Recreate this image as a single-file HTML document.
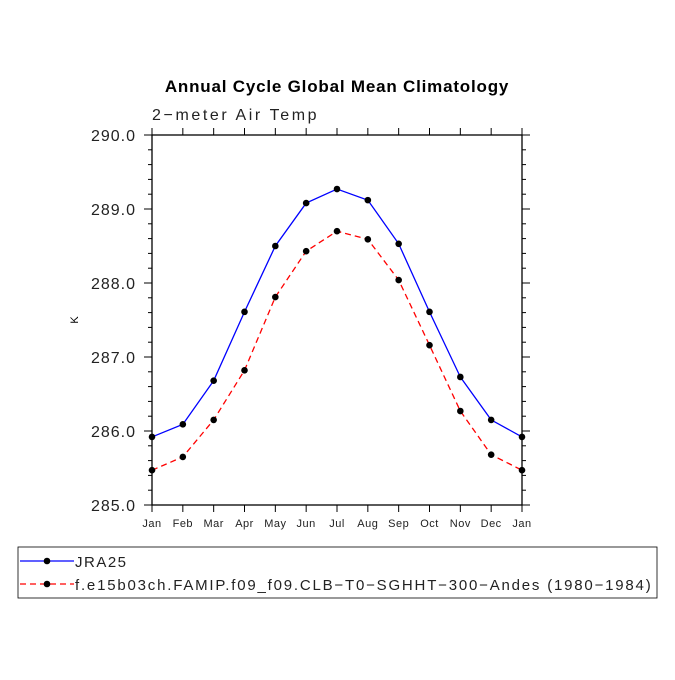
<!DOCTYPE html>
<html><head><meta charset="utf-8"><style>
body{margin:0;background:#fff}
svg text{font-family:"Liberation Sans",sans-serif}
</style></head><body>
<svg id="c" width="675" height="675" xmlns="http://www.w3.org/2000/svg">
<text x="337" y="92" text-anchor="middle" font-size="17" font-weight="bold" letter-spacing="0.8">Annual Cycle Global Mean Climatology</text>
<text x="152" y="120" font-size="16" fill="#222" letter-spacing="2.6">2−meter Air Temp</text>
<text x="78" y="320" font-size="11" transform="rotate(-90 78 320)" text-anchor="middle">K</text>
<rect x="152" y="135" width="370" height="370" fill="none" stroke="#000" stroke-width="1.3"/>
<g id="ticks"></g><g id="series"></g>
<rect x="18" y="547" width="639" height="51" fill="none" stroke="#000" stroke-width="0.8"/>
<g>
<line x1="20" y1="561" x2="74" y2="561" stroke="#00f" stroke-width="1.2"/><circle cx="47" cy="561" r="3.3"/>
<text x="75" y="567" font-size="15" fill="#222" letter-spacing="1.5">JRA25</text></g>
<g>
<line x1="20" y1="584" x2="74" y2="584" stroke="#f00" stroke-width="1.2" stroke-dasharray="6,4"/><circle cx="47" cy="584" r="3.3"/>
<text x="75" y="590" font-size="15" fill="#222" letter-spacing="1.8">f.e15b03ch.FAMIP.f09_f09.CLB−T0−SGHHT−300−Andes (1980−1984)</text></g>
</svg>
<script>
const months=["Jan","Feb","Mar","Apr","May","Jun","Jul","Aug","Sep","Oct","Nov","Dec","Jan"];
const jra25=[285.92,286.09,286.68,287.61,288.50,289.08,289.27,289.12,288.53,287.61,286.73,286.15,285.92];
const model=[285.47,285.65,286.15,286.82,287.81,288.43,288.70,288.59,288.04,287.16,286.27,285.68,285.47];
const yTicks=["285.0","286.0","287.0","288.0","289.0","290.0"];
const NS="http://www.w3.org/2000/svg";
const X0=152,X1=522,Y0=505,Y1=135,YMIN=285,YMAX=290;
const xs=i=>X0+(X1-X0)*i/(months.length-1);
const ys=v=>Y0-(v-YMIN)/(YMAX-YMIN)*(Y0-Y1);
function mk(t,a,p){const e=document.createElementNS(NS,t);for(const k in a)e.setAttribute(k,a[k]);p.appendChild(e);return e;}
const tg=document.getElementById('ticks'),sg=document.getElementById('series');
months.forEach((m,i)=>{const x=xs(i);
mk('line',{x1:x,y1:Y0,x2:x,y2:Y0+7,stroke:'#000'},tg);
mk('line',{x1:x,y1:Y1,x2:x,y2:Y1-7,stroke:'#000'},tg);
const t=mk('text',{x:x,y:Y0+22,'font-size':11,'text-anchor':'middle',fill:'#222','letter-spacing':0.5},tg);t.textContent=m;

});
for(let v=YMIN;v<=YMAX+1e-6;v+=0.2){const y=ys(v);const maj=Math.abs(v-Math.round(v))<1e-6;const L=maj?8:4;
mk('line',{x1:X0,y1:y,x2:X0-L,y2:y,stroke:'#000'},tg);
mk('line',{x1:X1,y1:y,x2:X1+L,y2:y,stroke:'#000'},tg);}
yTicks.forEach(s=>{const y=ys(parseFloat(s));const t=mk('text',{x:X0-16,y:y+6,'font-size':16,'text-anchor':'end',fill:'#222','letter-spacing':1},tg);t.textContent=s;

});
function series(d,col,dash,name){const g=mk('g',{},sg);


const a={points:d.map((v,i)=>xs(i)+','+ys(v)).join(' '),fill:'none',stroke:col,'stroke-width':1.3};if(dash)a['stroke-dasharray']=dash;mk('polyline',a,g);
d.forEach((v,i)=>mk('circle',{cx:xs(i),cy:ys(v),r:3.3,fill:'#000'},g));}
series(jra25,'#00f',null,'series-jra25');
series(model,'#f00','6,4','series-model');
</script>
</body></html>
